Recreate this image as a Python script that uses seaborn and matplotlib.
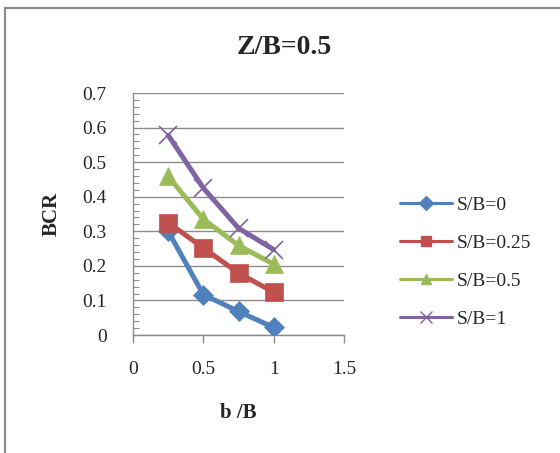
import matplotlib
matplotlib.use("Agg")
import matplotlib.pyplot as plt
from matplotlib.lines import Line2D
from matplotlib.patches import Rectangle
from matplotlib.ticker import MultipleLocator
import seaborn as sns
import pandas as pd

sns.set_style("white")
plt.rcParams["font.family"] = ["Liberation Serif", "DejaVu Serif"]

# b/B positions and BCR values for each S/B series
b_over_B = [0.25, 0.5, 0.75, 1.0]
bcr_sb_0 = [0.30, 0.117, 0.068, 0.022]
bcr_sb_025 = [0.325, 0.252, 0.179, 0.124]
bcr_sb_05 = [0.459, 0.335, 0.259, 0.205]
bcr_sb_1 = [0.578, 0.425, 0.309, 0.247]

series_labels = ["S/B=0", "S/B=0.25", "S/B=0.5", "S/B=1"]
series_values = [bcr_sb_0, bcr_sb_025, bcr_sb_05, bcr_sb_1]
x_ticks = [0, 0.5, 1, 1.5]
y_ticks = [0, 0.1, 0.2, 0.3, 0.4, 0.5, 0.6, 0.7]

colors = ["#4F81BD", "#C0504D", "#9BBB59", "#8064A2"]
markers = ["D", "s", "^", "x"]
msizes = [10, 13, 13, 13]

fig = plt.figure(figsize=(5.6, 4.53), dpi=100)
# outer chart-area frame
fig.patches.append(Rectangle((5 / 560, -0.05), 1.0, 1 - 8 / 453 + 0.05,
                             transform=fig.transFigure, fill=False,
                             edgecolor="#8c8c8c", linewidth=1.6))

ax = fig.add_axes([133 / 560, 1 - 335 / 453, (344 - 133) / 560, (335 - 93) / 453])

frames = []
for lab, vals in zip(series_labels, series_values):
    frames.append(pd.DataFrame({"b/B": b_over_B, "BCR": vals, "series": lab}))
df = pd.concat(frames, ignore_index=True)

for lab, col, mk, ms in zip(series_labels, colors, markers, msizes):
    sub = df[df["series"] == lab]
    sns.lineplot(data=sub, x="b/B", y="BCR", ax=ax, color=col, linewidth=3.6,
                 marker=mk, markersize=ms, markeredgecolor=col,
                 markeredgewidth=1.2 if mk == "x" else 0.5,
                 legend=False, zorder=3)

ax.set_xlim(0, 1.5)
ax.set_ylim(0, 0.7)
ax.set_xticks(x_ticks)
ax.set_xticklabels([f"{v:g}" for v in x_ticks])
ax.set_yticks(y_ticks)
ax.set_yticklabels([f"{v:g}" for v in y_ticks])
ax.yaxis.set_minor_locator(MultipleLocator(0.02))

ax.grid(axis="y", color="#8c8c8c", linewidth=1.0)
ax.grid(axis="x", visible=False)
for s in ["top", "right"]:
    ax.spines[s].set_visible(False)
for s in ["left", "bottom"]:
    ax.spines[s].set_color("#8c8c8c")
    ax.spines[s].set_linewidth(1.0)

ax.tick_params(axis="y", which="major", direction="out", length=6, width=1,
               color="#8c8c8c", labelsize=14, pad=13)
ax.tick_params(axis="y", which="minor", direction="in", length=4, width=0.8,
               color="#8c8c8c", left=True)
ax.tick_params(axis="x", which="major", direction="out", length=6, width=1,
               color="#8c8c8c", labelsize=14, pad=13, bottom=True)

ax.set_xlabel("b /B", fontsize=15, fontweight="bold", labelpad=18)
ax.set_ylabel("BCR", fontsize=15, fontweight="bold", labelpad=15)

fig.text(284 / 560, 1 - 47 / 453, "Z/B=0.5", ha="center", va="center",
         fontsize=20, fontweight="bold")

handles = [Line2D([0], [0], color=c, linewidth=2.2, marker=m,
                  markersize=7 if m != "x" else 8, markeredgecolor=c,
                  markeredgewidth=1.0)
           for c, m in zip(colors, markers)]
fig.legend(handles, series_labels, loc="center left",
           bbox_to_anchor=(382 / 560, 1 - 262 / 453), frameon=False,
           fontsize=14, handlelength=2.7, handletextpad=0.25,
           labelspacing=1.05)

fig.savefig("out.png", dpi=100)
